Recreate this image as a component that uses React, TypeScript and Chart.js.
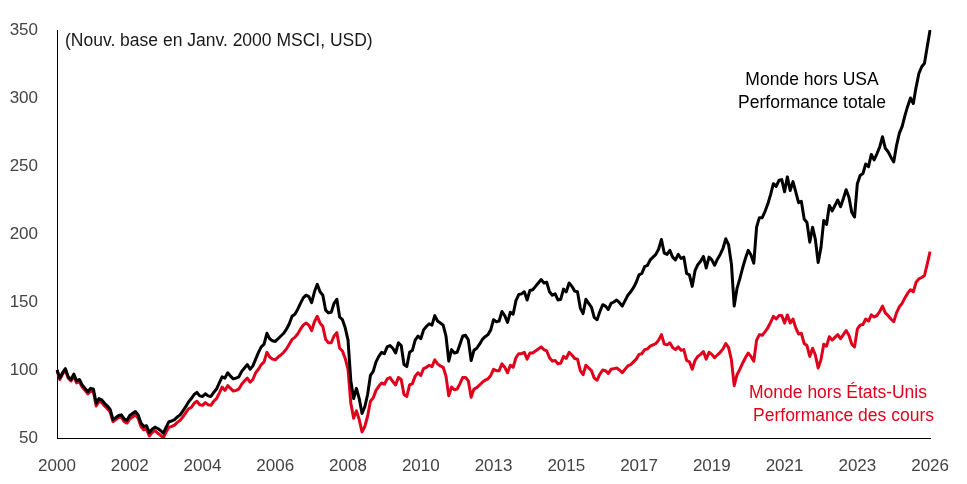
import React, { useEffect, useRef } from 'react';
import { Chart, registerables } from 'chart.js';

Chart.register(...registerables);

const RED = '#e0001b';
const FONT = '"Liberation Sans", Arial, sans-serif';

// monthly points, Jan 2000 .. Jan 2026; one axis label every 26 months
const START_YEAR = 2000;
const TICK_EVERY = 26;
const xTickLabels = ['2000', '2002', '2004', '2006', '2008', '2010', '2013', '2015', '2017', '2019', '2021', '2023', '2026'];

const yMin = 50;
const yMax = 350;
const yStep = 50;

// Monde hors USA - performance totale (base 100 = janv. 2000)
const totalReturn = [
    100, 94, 98, 101, 95, 93, 97, 92, 93, 89, 86.5, 84, // 2000
    86.5, 86, 75.5, 79, 78, 75.5, 73.5, 71, 63.5, 65, 66.5, 67, // 2001
    64, 63, 66.5, 68, 69.5, 67, 61, 58.5, 59, 54, 56.5, 58, // 2002
    57, 55.5, 53.5, 58, 62, 62.5, 63.5, 65.5, 67, 70, 73, 76.5, // 2003
    79, 82, 83.5, 81, 80.5, 82.5, 81, 80.5, 83.5, 86, 90.5, 95, // 2004
    94, 98, 95.5, 93.5, 94, 95, 99, 101.5, 104, 100.5, 103, 108, // 2005
    113, 117, 119, 127, 123, 121.5, 121, 123, 125, 127, 130, 134, // 2006
    139.5, 141, 144.5, 149, 153, 155, 154, 149.5, 157.5, 163, 157.5, 155, // 2007
    144, 142, 142.5, 149, 152, 139, 137, 131, 122, 92, 79, 86.5, // 2008
    79, 68, 73, 82, 96, 99, 106, 110, 113, 112, 117, 118, // 2009
    116, 112.5, 120, 118, 104, 102.5, 113, 114.5, 122, 125, 123, 129.5, // 2010
    132, 134, 133, 140, 136, 134.5, 133, 125, 106.5, 115, 112.5, 113, // 2011
    119, 125, 125.5, 122, 107, 114.5, 116, 119, 122.5, 124.5, 126, 129.5, // 2012
    137, 135.5, 136, 143, 140, 135, 142.5, 141, 151, 155.5, 156, 157.5, // 2013
    151.5, 158.5, 159, 161.5, 164, 166.5, 164, 164.5, 157.5, 155, 156, 151.5, // 2014
    152, 159.5, 157.5, 164, 161.5, 158, 157.5, 145.5, 141.5, 152, 149, 146, // 2015
    138.5, 137, 143, 148, 147, 144.5, 149, 150, 151.5, 149.5, 147, 151, // 2016
    155, 157.5, 160.5, 164.5, 170, 171, 176, 177, 181, 183, 185, 189, // 2017
    196, 186, 185, 188, 183, 181, 185, 182, 183, 171, 170, 161.5, // 2018
    173, 177.5, 180, 183.5, 175, 183, 181, 177, 181.5, 185, 189.5, 196.5, // 2019
    192, 178, 147, 160, 167, 175, 182, 188, 184.5, 178.5, 205, 212, // 2020
    212, 216.5, 222, 229, 237, 235, 239.5, 240, 231, 242, 232, 238.5, // 2021
    231, 223, 224, 211, 208.5, 194, 205, 196, 179, 190, 210, 207, // 2022
    221, 217, 221, 225, 220, 226, 232.5, 227, 216, 212.5, 237, 243, // 2023
    244.5, 251.5, 249.5, 258.5, 254.5, 259, 264, 271.5, 263, 260.5, 256.5, 253, // 2024
    265, 274, 279, 287, 294, 300, 296, 308, 318, 323, 325.5, 338, // 2025
    350, // 2026
];

// Monde hors Etats-Unis - performance des cours
const priceReturn = [
    100, 93, 97, 100, 94, 92, 95.5, 90.5, 91.5, 87.5, 85, 82.5, // 2000
    84.5, 84, 73.5, 77, 76, 73.5, 71.5, 69, 62, 63.5, 65, 65.5, // 2001
    62, 61, 64, 65.5, 67, 64.5, 58.5, 56, 56.5, 51.5, 54, 55.5, // 2002
    53.5, 52, 50, 54.5, 58, 58.5, 59.5, 61.5, 63, 65.5, 68.5, 71.5, // 2003
    72.5, 75.5, 77, 74.5, 74, 76, 74.5, 74, 77, 79, 83, 87.5, // 2004
    85, 88.5, 86.5, 84.5, 85, 86, 89.5, 92, 94, 91, 93, 98, // 2005
    100.5, 104, 106, 113, 109.5, 108, 107.5, 109.5, 111, 113, 115.5, 119, // 2006
    122.5, 124, 126.5, 130, 133, 134.5, 133, 129, 135.5, 139.5, 134.5, 132, // 2007
    122.5, 120, 120, 125, 127.5, 116, 114, 108.5, 100.5, 75.5, 64.5, 70, // 2008
    63.5, 54.5, 58.5, 66, 77, 79.5, 85, 88, 90.5, 89.5, 93.5, 94.5, // 2009
    91.5, 89, 94.5, 93, 82, 80.5, 89, 90, 95.5, 98, 96, 101, // 2010
    102, 103.5, 102.5, 107.5, 104.5, 103, 102, 95.5, 81, 87.5, 85.5, 86, // 2011
    90, 94.5, 94.5, 92, 80, 86, 87, 89, 91, 92.5, 93.5, 96, // 2012
    100.5, 99.5, 99.5, 104.5, 102, 98, 103.5, 102, 109, 112, 112, 113, // 2013
    108, 112.5, 112.5, 114, 115.5, 117, 115, 114, 109, 106.5, 107, 104.5, // 2014
    105, 110, 108.5, 113, 111, 108.5, 108, 99.5, 96.5, 103.5, 101.5, 99.5, // 2015
    94, 92.5, 97, 100, 99.5, 97.5, 100.5, 101, 101.5, 100, 98, 100.5, // 2016
    103, 104, 106, 108, 111.5, 112, 115, 115.5, 117.5, 118.5, 119.5, 122, // 2017
    126, 119, 118.5, 120, 116.5, 115, 117, 114.5, 115, 107, 106, 100.5, // 2018
    107, 110, 111.5, 113.5, 108, 113, 111.5, 109, 111, 113, 115.5, 119.5, // 2019
    116.5, 107.5, 88.5, 96.5, 100.5, 105, 109, 112.5, 110, 106.5, 122, 126, // 2020
    125.5, 128, 131, 135, 139.5, 137.5, 140, 140, 134.5, 140.5, 134.5, 137.5, // 2021
    131, 126.5, 127, 119.5, 118, 110, 116, 111, 101.5, 107.5, 119, 117.5, // 2022
    124.5, 122, 124, 126, 123, 126, 129, 125.5, 119, 117, 130, 133, // 2023
    133.5, 137.5, 136, 140.5, 139, 140, 143, 147, 142, 140, 137.5, 135.5, // 2024
    142, 146.5, 149, 153, 156.5, 159, 157.5, 164.5, 167, 168, 169.5, 178, // 2025
    187, // 2026
];

const monthLabels = totalReturn.map(
    (_, i) => `${START_YEAR + Math.floor(i / 12)}-${String((i % 12) + 1).padStart(2, '0')}`
);

// texts drawn straight on the canvas
const notesPlugin = {
    id: 'notes',
    afterDraw(chart: Chart) {
        const ctx = chart.ctx;
        ctx.save();
        ctx.font = `17.5px ${FONT}`;
        ctx.textBaseline = 'alphabetic';

        ctx.fillStyle = '#1a1a1a';
        ctx.textAlign = 'left';
        ctx.fillText('(Nouv. base en Janv. 2000 MSCI, USD)', 65, 46);

        ctx.textAlign = 'center';
        ctx.fillStyle = '#000000';
        ctx.fillText('Monde hors USA', 812, 85);
        ctx.fillText('Performance totale', 812, 108);

        ctx.fillStyle = RED;
        ctx.fillText('Monde hors États-Unis', 838, 398);
        ctx.fillText('Performance des cours', 843.5, 421);
        ctx.restore();
    },
};

const App: React.FC = () => {
    const chartRef = useRef<HTMLCanvasElement>(null);
    const chartInstanceRef = useRef<Chart | null>(null);

    useEffect(() => {
        if (!chartRef.current) return;
        const ctx = chartRef.current.getContext('2d');
        if (!ctx) return;

        const tickFont = { family: FONT, size: 17 };

        chartInstanceRef.current = new Chart(ctx, {
            type: 'line',
            data: {
                labels: monthLabels,
                datasets: [
                    {
                        label: 'Monde hors USA - Performance totale',
                        data: totalReturn,
                        borderColor: '#000000',
                        borderWidth: 3,
                        pointRadius: 0,
                        tension: 0,
                        borderJoinStyle: 'round',
                    },
                    {
                        label: 'Monde hors États-Unis - Performance des cours',
                        data: priceReturn,
                        borderColor: RED,
                        borderWidth: 3,
                        pointRadius: 0,
                        tension: 0,
                        borderJoinStyle: 'round',
                    },
                ],
            },
            options: {
                responsive: true,
                maintainAspectRatio: false,
                animation: false,
                layout: { padding: { top: 30, right: 34, bottom: 0, left: 0 } },
                plugins: {
                    legend: { display: false },
                    tooltip: { enabled: false },
                },
                scales: {
                    x: {
                        type: 'category',
                        offset: false,
                        grid: { display: false, drawTicks: false },
                        border: { display: true, color: '#000000', width: 1 },
                        ticks: {
                            autoSkip: false,
                            maxRotation: 0,
                            padding: 18,
                            color: '#444444',
                            font: tickFont,
                            callback: (_v, i) => (i % TICK_EVERY === 0 ? xTickLabels[i / TICK_EVERY] : null),
                        },
                        afterFit: (scale) => {
                            scale.height = 46;
                        },
                    },
                    y: {
                        min: yMin,
                        max: yMax,
                        grid: { display: false, drawTicks: false },
                        border: { display: true, color: '#000000', width: 1 },
                        ticks: {
                            stepSize: yStep,
                            padding: 19,
                            color: '#444444',
                            font: tickFont,
                        },
                        afterFit: (scale) => {
                            scale.width = 57;
                        },
                    },
                },
            },
            plugins: [notesPlugin],
        });

        return () => {
            if (chartInstanceRef.current) {
                chartInstanceRef.current.destroy();
                chartInstanceRef.current = null;
            }
        };
    }, []);

    return (
        <div style={{ position: 'fixed', left: 0, top: 0, width: 967, height: 484, background: '#ffffff' }}>
            <canvas ref={chartRef} />
        </div>
    );
};

export default App;
